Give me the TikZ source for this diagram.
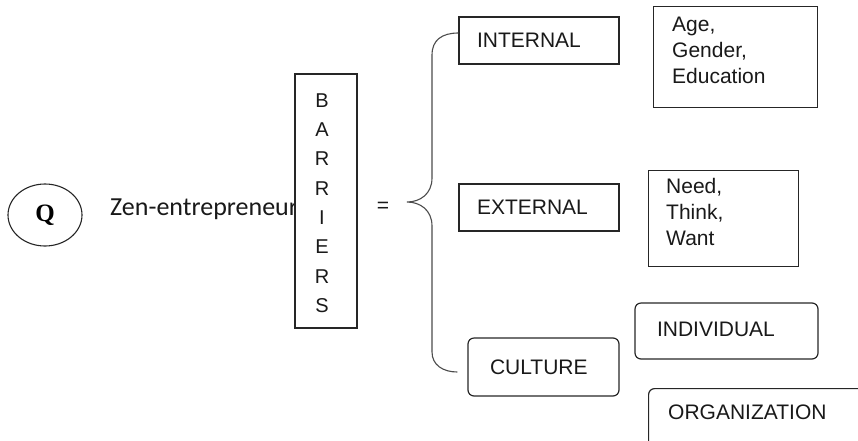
\documentclass[tikz,border=0pt]{standalone}
\usepackage{fontspec}
\setmainfont{Liberation Sans}
\newfontfamily\calib{Carlito}
\newfontfamily\qfont{Liberation Serif}
\usetikzlibrary{shapes.geometric,calc}
\begin{document}
\begin{tikzpicture}[x=1pt,y=-1pt,
  box/.style={draw=black!85, line width=1.2pt},
  rbox/.style={box, rounded corners=6pt},
  lbl/.style={font=\fontsize{21}{26}\selectfont, text=black!90, align=left},
  brace/.style={draw=black!70, line width=1.1pt},
]
\useasboundingbox (0,0) rectangle (858,440);

% left part
\node[draw=black!85, line width=1.1pt, ellipse, minimum width=74pt, minimum height=62pt, inner sep=0pt,
      font=\qfont\bfseries\fontsize{25}{25}\selectfont] (q) at (45,215) {Q};
\node[anchor=base west, font=\calib\fontsize{26}{26}\selectfont, inner sep=0pt, text=black!90] (zen) at (110,215) {Zen-entrepreneur};
\node[box, fill=white, minimum width=62pt, minimum height=254pt, inner sep=0pt] (bar) at (326,201) {};
\node[font=\fontsize{20}{29.3}\selectfont, align=center, inner sep=0pt, text=black!90] (bart) at (322,203) {B\\A\\R\\R\\I\\E\\R\\S};
\node[font=\fontsize{21}{21}\selectfont, inner sep=0pt, text=black!90] (eq) at (383,207) {=};

% category boxes
\node[box, lbl, minimum height=47pt, text width=124pt, inner xsep=18pt, inner ysep=0pt] (int) at (539,40.5) {INTERNAL};
\node[box, lbl, minimum height=47pt, text width=124pt, inner xsep=18pt, inner ysep=0pt] (ext) at (539,207.5) {EXTERNAL};
\node[rbox, lbl, minimum height=58pt, text width=107pt, inner xsep=22pt, inner ysep=0pt] (cul) at (543.5,367) {CULTURE};

% detail boxes
\node[box, minimum width=164pt, minimum height=101pt, anchor=north west, inner sep=0pt] (age) at (653,6) {};
\node[lbl, anchor=west, inner sep=0pt] (aget) at (672,50) {Age,\\Gender,\\Education};
\node[box, minimum width=150pt, minimum height=96pt, anchor=north west, inner sep=0pt] (need) at (648,170) {};
\node[lbl, anchor=west, inner sep=0pt] (needt) at (666,212) {Need,\\Think,\\Want};
\node[rbox, lbl, minimum height=56pt, text width=139pt, inner xsep=22pt, inner ysep=0pt] (ind) at (726.5,331) {\raisebox{3pt}{INDIVIDUAL}};
\node[rbox, minimum width=240pt, minimum height=90pt, anchor=north west, inner sep=0pt] (org) at (648,388) {};
\node[lbl, anchor=west, inner sep=0pt] (orgt) at (668,412) {ORGANIZATION};

% brace
\draw[brace] ($(int.west)+(0,-7.5)$) .. controls (442,33) and (432,40) .. (432,55)
  -- (432,178) .. controls (432,194) and (420,202) .. (407,202)
  .. controls (420,202) and (432,210) .. (432,226)
  -- (432,352) .. controls (432,365) and (443,372) .. ($(cul.west)+(-10,5)$);
\end{tikzpicture}
\end{document}
